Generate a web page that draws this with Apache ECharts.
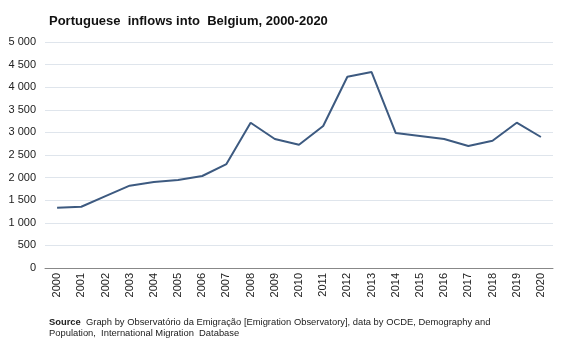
<!DOCTYPE html>
<html>
<head>
<meta charset="utf-8">
<script src="https://cdn.jsdelivr.net/npm/echarts@6/dist/echarts.min.js"></script>
<style>html,body{margin:0;padding:0;background:#fff}#c{width:567px;height:340px}</style>
</head>
<body>
<div id="c"></div>
<script>
var years = ['2000','2001','2002','2003','2004','2005','2006','2007','2008','2009','2010','2011','2012','2013','2014','2015','2016','2017','2018','2019','2020'];
var inflows = [1334,1356,1590,1821,1902,1947,2035,2300,3214,2853,2725,3141,4232,4336,2986,2920,2853,2699,2816,3214,2898];
var yTicks = [0,500,1000,1500,2000,2500,3000,3500,4000,4500,5000];

var chart = echarts.init(document.getElementById('c'));
function fmt(v){ return String(v).replace(/\B(?=(\d{3})+(?!\d))/g,' '); }
chart.setOption({
  animation:false,
  textStyle:{fontFamily:'Liberation Sans, Arial, sans-serif'},
  title:{
    text:'Portuguese  inflows into  Belgium, 2000-2020',
    left:44, top:10,
    textStyle:{fontSize:13,fontWeight:'bold',color:'#111',fontFamily:'Liberation Sans, Arial, sans-serif'}
  },
  graphic:[{
    type:'text', left:49, top:318,
    style:{
      rich:{
        b:{fontWeight:'bold',fontSize:9.4,fill:'#222',fontFamily:'Liberation Sans, Arial, sans-serif',lineHeight:11},
        n:{fontSize:9.4,fill:'#222',fontFamily:'Liberation Sans, Arial, sans-serif',lineHeight:11}
      },
      text:'{b|Source}{n|  Graph by Observatório da Emigração [Emigration Observatory], data by OCDE, Demography and}\n{n|Population,  International Migration  Database}'
    }
  }],
  grid:{left:45,right:14,top:42,bottom:72},
  xAxis:{
    type:'category', data:years, boundaryGap:true,
    axisLine:{lineStyle:{color:'#888',width:1}},
    axisTick:{show:false},
    axisLabel:{rotate:90,fontSize:11,color:'#222',margin:5,interval:0}
  },
  yAxis:{
    type:'value', min:yTicks[0], max:yTicks[yTicks.length-1], interval:500,
    axisLine:{show:false}, axisTick:{show:false},
    splitLine:{lineStyle:{color:'#dfe5ec',width:1}},
    axisLabel:{fontSize:11,color:'#222',margin:9,formatter:fmt}
  },
  series:[{
    type:'line', data:inflows, symbol:'none',
    lineStyle:{color:'#3d5a80',width:2}
  }]
});
</script>
</body>
</html>
